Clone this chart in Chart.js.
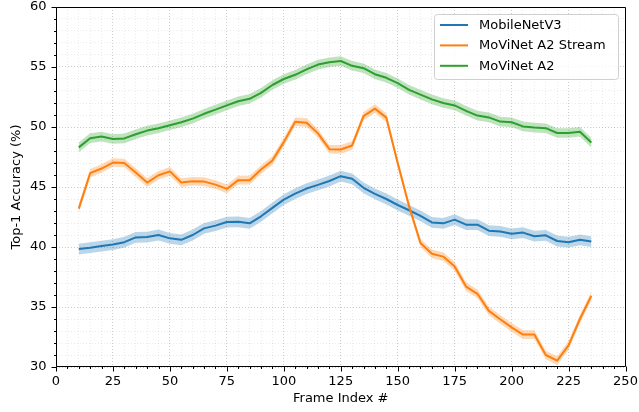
<!DOCTYPE html>
<html>
<head>
<meta charset="utf-8">
<script src="https://cdn.jsdelivr.net/npm/chart.js@4/dist/chart.umd.min.js"></script>
<style>
  html, body { margin: 0; padding: 0; background: #ffffff; }
  #wrap { width: 639px; height: 412px; position: relative; }
</style>
</head>
<body>
<div id="wrap"><canvas id="chart"></canvas></div>
<script>
// Frame index at which accuracy was measured
const frames = [10, 15, 20, 25, 30, 35, 40, 45, 50, 55, 60, 65, 70, 75, 80, 85, 90, 95, 100, 105,
  110, 115, 120, 125, 130, 135, 140, 145, 150, 155, 160, 165, 170, 175, 180, 185, 190, 195, 200, 205,
  210, 215, 220, 225, 230, 235];

// Top-1 accuracy (%) per model
const mobileNetV3 = [39.83, 39.94, 40.08, 40.2, 40.4, 40.8, 40.83, 41.0, 40.72, 40.6,
  41.0, 41.55, 41.78, 42.08, 42.1, 41.97, 42.56, 43.26, 43.95, 44.45,
  44.87, 45.18, 45.5, 45.9, 45.68, 44.93, 44.43, 44.0, 43.5, 43.06,
  42.6, 42.05, 41.97, 42.28, 41.86, 41.86, 41.36, 41.3, 41.1, 41.2,
  40.9, 40.97, 40.5, 40.4, 40.6, 40.45];

const movinetA2Stream = [43.2, 46.15, 46.54, 47.04, 47.0, 46.2, 45.37, 45.98, 46.3, 45.37,
  45.48, 45.45, 45.2, 44.84, 45.57, 45.57, 46.46, 47.2, 48.74, 50.44,
  50.36, 49.47, 48.15, 48.13, 48.46, 50.9, 51.53, 50.78, 47.0, 43.4,
  40.33, 39.44, 39.2, 38.38, 36.7, 36.1, 34.68, 33.98, 33.3, 32.7,
  32.7, 31.0, 30.53, 31.8, 34.0, 35.93];

const movinetA2 = [48.3, 49.07, 49.2, 49.0, 49.05, 49.4, 49.7, 49.9, 50.15, 50.4,
  50.7, 51.1, 51.45, 51.8, 52.15, 52.35, 52.85, 53.5, 54.0, 54.35,
  54.8, 55.2, 55.4, 55.5, 55.1, 54.9, 54.4, 54.1, 53.65, 53.1,
  52.7, 52.3, 52.0, 51.8, 51.35, 50.95, 50.8, 50.45, 50.4, 50.05,
  49.95, 49.9, 49.5, 49.5, 49.6, 48.7];

// Half-width of the shaded confidence band around each curve (accuracy points)
const bandMobileNetV3 = 0.45;
const bandStream = 0.36;
const bandA2 = 0.4;

const seriesNames = ['MobileNetV3', 'MoViNet A2 Stream', 'MoViNet A2'];

// Axis tick values
const xMajorTicks = [0, 25, 50, 75, 100, 125, 150, 175, 200, 225, 250];
const yMajorTicks = [30, 35, 40, 45, 50, 55, 60];

const COLORS = ['#1f77b4', '#ff7f0e', '#2ca02c'];
const BANDS = ['rgba(31,119,180,0.3)', 'rgba(255,127,14,0.3)', 'rgba(44,160,44,0.3)'];
const FONT = { family: '"DejaVu Sans", sans-serif', size: 13 };

function toPoints(values, offset) {
  return frames.map((f, i) => ({ x: f, y: values[i] + offset }));
}

function minorValues(lo, hi, step) {
  const out = [];
  for (let v = lo; v <= hi + 1e-9; v += step) out.push(Math.round(v * 100) / 100);
  return out;
}
const xAllTicks = minorValues(0, 250, 5);
const yAllTicks = minorValues(30, 60, 1);

const seriesValues = [mobileNetV3, movinetA2Stream, movinetA2];
const seriesBands = [bandMobileNetV3, bandStream, bandA2];

const datasets = [];
seriesValues.forEach((vals, s) => {
  const base = datasets.length;
  datasets.push({
    label: seriesNames[s] + ' lower',
    data: toPoints(vals, -seriesBands[s]),
    borderWidth: 0, pointRadius: 0, fill: false, borderColor: 'rgba(0,0,0,0)'
  });
  datasets.push({
    label: seriesNames[s] + ' upper',
    data: toPoints(vals, seriesBands[s]),
    borderWidth: 0, pointRadius: 0, borderColor: 'rgba(0,0,0,0)',
    backgroundColor: BANDS[s], fill: base
  });
  datasets.push({
    label: seriesNames[s],
    data: toPoints(vals, 0),
    borderColor: COLORS[s], borderWidth: 2, pointRadius: 0, fill: false,
    borderJoinStyle: 'round', borderCapStyle: 'butt'
  });
});
// earlier datasets are drawn underneath later ones
datasets.forEach((d, i) => { d.order = datasets.length - 1 - i; d.tension = 0; });

const frameAndTicks = {
  id: 'frameAndTicks',
  afterDraw(chart) {
    const { ctx, chartArea: a, scales } = chart;
    const L = Math.round(a.left) + 0.5, R = Math.round(a.right) - 0.5;
    const T = Math.round(a.top) + 0.5, B = Math.round(a.bottom) - 0.5;
    ctx.save();
    ctx.strokeStyle = '#000';
    ctx.lineWidth = 1;
    ctx.beginPath();
    ctx.rect(L, T, R - L, B - T);
    ctx.stroke();
    // tick marks: long for labelled values, short for the rest
    ctx.beginPath();
    xAllTicks.forEach(v => {
      const px = Math.round(scales.x.getPixelForValue(v)) + 0.5;
      const len = xMajorTicks.includes(v) ? 5 : 2.5;
      ctx.moveTo(px, B); ctx.lineTo(px, B + len);
    });
    yAllTicks.forEach(v => {
      const py = Math.round(scales.y.getPixelForValue(v)) + 0.5;
      const len = yMajorTicks.includes(v) ? 5 : 2.5;
      ctx.moveTo(L, py); ctx.lineTo(L - len, py);
    });
    ctx.stroke();

    // legend box
    const bx = 434.5, by = 14.5, bw = 184, bh = 65, r = 3;
    ctx.beginPath();
    ctx.moveTo(bx + r, by);
    ctx.lineTo(bx + bw - r, by); ctx.quadraticCurveTo(bx + bw, by, bx + bw, by + r);
    ctx.lineTo(bx + bw, by + bh - r); ctx.quadraticCurveTo(bx + bw, by + bh, bx + bw - r, by + bh);
    ctx.lineTo(bx + r, by + bh); ctx.quadraticCurveTo(bx, by + bh, bx, by + bh - r);
    ctx.lineTo(bx, by + r); ctx.quadraticCurveTo(bx, by, bx + r, by);
    ctx.closePath();
    ctx.fillStyle = 'rgba(255,255,255,0.8)';
    ctx.fill();
    ctx.strokeStyle = '#d0d0d0';
    ctx.stroke();
    ctx.font = '13px "DejaVu Sans", sans-serif';
    ctx.textBaseline = 'middle';
    ctx.fillStyle = '#000';
    seriesNames.forEach((name, i) => {
      const y = 25 + i * 20.4;
      ctx.strokeStyle = COLORS[i];
      ctx.lineWidth = 2;
      ctx.beginPath();
      ctx.moveTo(440, y); ctx.lineTo(468, y);
      ctx.stroke();
      ctx.fillText(name, 479, y + 0.5);
    });
    ctx.restore();
  }
};

new Chart(document.getElementById('chart'), {
  type: 'line',
  data: { datasets },
  options: {
    responsive: true,
    maintainAspectRatio: false,
    animation: false,
    layout: { padding: { top: 7, right: 13.5, left: 0, bottom: 0 } },
    plugins: { legend: { display: false }, tooltip: { enabled: false } },
    scales: {
      x: {
        type: 'linear', min: 0, max: 250,
        afterFit(s) { s.height = 45; s.paddingLeft = 0; s.paddingRight = 0; },
        afterBuildTicks(s) { s.ticks = xAllTicks.map(v => ({ value: v })); },
        ticks: {
          autoSkip: false, maxRotation: 0, minRotation: 0, padding: 7,
          color: '#000', font: FONT,
          callback: v => (xMajorTicks.includes(v) ? String(v) : '')
        },
        grid: {
          drawTicks: false, lineWidth: 0.8,
          color: c => (c.tick && xMajorTicks.includes(c.tick.value) ? 'rgba(0,0,0,0.25)' : 'rgba(0,0,0,0.1)')
        },
        border: { display: false, dash: [1, 2] },
        title: { display: true, text: 'Frame Index #', color: '#000', font: FONT, padding: { top: 0, bottom: 6 } }
      },
      y: {
        type: 'linear', min: 30, max: 60,
        afterFit(s) { s.width = 56; s.paddingTop = 0; s.paddingBottom = 0; },
        afterBuildTicks(s) { s.ticks = yAllTicks.map(v => ({ value: v })); },
        ticks: {
          autoSkip: false, padding: 9.5, color: '#000', font: FONT,
          callback: v => (yMajorTicks.includes(v) ? String(v) : '')
        },
        grid: {
          drawTicks: false, lineWidth: 0.8,
          color: c => (c.tick && yMajorTicks.includes(c.tick.value) ? 'rgba(0,0,0,0.25)' : 'rgba(0,0,0,0.1)')
        },
        border: { display: false, dash: [1, 2] },
        title: { display: true, text: 'Top-1 Accuracy (%)', color: '#000', font: FONT, padding: { top: 9, bottom: 0 } }
      }
    }
  },
  plugins: [frameAndTicks]
});
</script>
</body>
</html>
